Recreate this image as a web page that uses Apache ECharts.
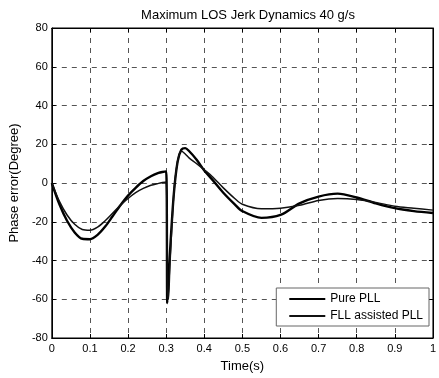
<!DOCTYPE html>
<html>
<head>
<meta charset="utf-8">
<title>Maximum LOS Jerk Dynamics</title>
<script src="https://cdn.jsdelivr.net/npm/echarts@6/dist/echarts.min.js"></script>
<style>
  html, body { margin: 0; padding: 0; background: #fff; }
  #container { width: 439px; height: 378px; }
</style>
</head>
<body>
<div id="container"></div>
<script>
// sample times (s)
var time = [0, 0.02, 0.04, 0.06, 0.08, 0.1, 0.12, 0.14, 0.16, 0.18, 0.2, 0.22, 0.24, 0.26, 0.28, 0.29, 0.3,
    0.303, 0.306, 0.31, 0.32, 0.33, 0.34, 0.35, 0.36, 0.38, 0.4, 0.42, 0.45, 0.48, 0.5, 0.55, 0.6, 0.65,
    0.7, 0.75, 0.8, 0.85, 0.9, 0.95, 1.0];
// phase error (degree)
var purePLL = [0, -11, -19.5, -25.5, -28.8, -29, -26.8, -22.5, -17, -11.5, -6.5, -2.5, 1, 3.5, 5.2, 5.7, 6,
    -62, -52, -36, -6, 11, 17.2, 18, 16.5, 12, 6.5, 2, -5, -11, -14.5, -18, -16.5, -10.5,
    -7, -5.5, -7.5, -10.5, -13, -14.5, -15.5];
var fllPLL = [0, -9.5, -16.5, -21.3, -24, -24.4, -22.8, -19.5, -15.5, -11.5, -8, -5, -2.8, -1.2, -0.2, 0.2, 0.5,
    -55, -60, -42, -6, 11, 16.5, 15, 13, 10, 6.8, 3.5, -2.5, -8, -11, -13.3, -13, -11.5,
    -9, -8, -8.5, -10, -12, -13, -14];
var xTicks = [0, 0.1, 0.2, 0.3, 0.4, 0.5, 0.6, 0.7, 0.8, 0.9, 1];
var yTicks = [-80, -60, -40, -20, 0, 20, 40, 60, 80];

function pairs(xs, ys) {
    var out = [];
    for (var i = 0; i < xs.length; i++) out.push([xs[i], ys[i]]);
    return out;
}

var myChart = echarts.init(document.getElementById('container'));
var font = 'Liberation Sans, Arial, sans-serif';
var dashed = { show: true, lineStyle: { color: '#555', type: [5, 5], width: 1 } };

var option = {
    backgroundColor: '#fff',
    animation: false,
    textStyle: { fontFamily: font, color: '#000' },
    title: {
        text: 'Maximum LOS Jerk Dynamics 40 g/s',
        left: 243, top: 4, textAlign: 'center',
        textStyle: { fontSize: 13, fontWeight: 'normal', color: '#000', fontFamily: font }
    },
    grid: { left: 49, right: 2, top: 28, bottom: 38, show: true, borderColor: '#000', borderWidth: 1 },
    legend: {
        orient: 'vertical',
        right: 10, top: 288,
        itemWidth: 36, itemHeight: 10, itemGap: 5,
        padding: [5, 6, 4, 12],
        backgroundColor: '#fff',
        borderColor: '#666', borderWidth: 1,
        itemStyle: { opacity: 0 },
        textStyle: { fontSize: 12, color: '#000', fontFamily: font },
        data: ['Pure PLL', 'FLL assisted PLL']
    },
    xAxis: [{
        type: 'value', min: xTicks[0], max: xTicks[xTicks.length - 1], interval: 0.1,
        name: 'Time(s)', nameLocation: 'middle', nameGap: 22,
        nameTextStyle: { fontSize: 13, color: '#000', fontFamily: font },
        axisLine: { onZero: false, lineStyle: { color: '#000' } },
        axisTick: { inside: true, length: 4, lineStyle: { color: '#000' } },
        axisLabel: { fontSize: 11, color: '#000', margin: 5 },
        splitLine: dashed
    }, {
        type: 'value', position: 'top', min: 0, max: 1, interval: 0.1,
        axisLine: { onZero: false, lineStyle: { color: '#000' } },
        axisTick: { inside: true, length: 4, lineStyle: { color: '#000' } },
        axisLabel: { show: false }, splitLine: { show: false }
    }],
    yAxis: [{
        type: 'value', min: yTicks[0], max: yTicks[yTicks.length - 1], interval: 20,
        name: 'Phase error(Degree)', nameLocation: 'middle', nameGap: 30,
        nameTextStyle: { fontSize: 13, color: '#000', fontFamily: font },
        axisLine: { onZero: false, lineStyle: { color: '#000' } },
        axisTick: { inside: true, length: 4, lineStyle: { color: '#000' } },
        axisLabel: { fontSize: 11, color: '#000', margin: 4 },
        splitLine: dashed
    }, {
        type: 'value', position: 'right', min: -80, max: 80, interval: 20,
        axisLine: { show: true, onZero: false, lineStyle: { color: '#000' } },
        axisTick: { show: true, inside: true, length: 4, lineStyle: { color: '#000' } },
        axisLabel: { show: false }, splitLine: { show: false }
    }],
    series: [{
        name: 'Pure PLL',
        type: 'line',
        smooth: 0.3,
        symbol: 'none',
        lineStyle: { color: '#000', width: 2.4 },
        itemStyle: { color: '#000' },
        data: pairs(time, purePLL)
    }, {
        name: 'FLL assisted PLL',
        type: 'line',
        smooth: 0.3,
        symbol: 'none',
        lineStyle: { color: '#111', width: 1.5 },
        itemStyle: { color: '#111' },
        data: pairs(time, fllPLL)
    }]
};
myChart.setOption(option);
</script>
</body>
</html>
